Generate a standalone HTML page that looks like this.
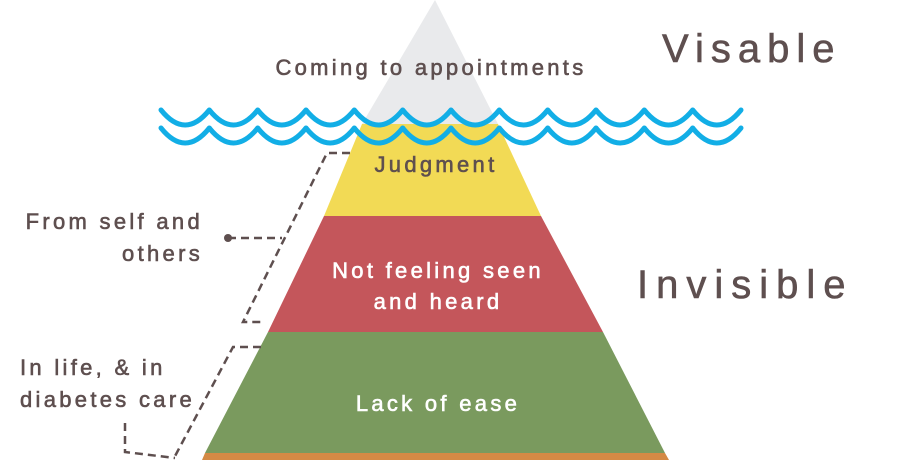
<!DOCTYPE html>
<html><head><meta charset="utf-8"><style>
html,body{margin:0;padding:0;background:#fff;width:903px;height:460px;overflow:hidden}
svg{display:block}
text{font-family:"Liberation Sans",sans-serif;}
</style></head><body>
<svg width="903" height="460" viewBox="0 0 903 460">
<polygon points="435,0 498,124 362,124" fill="#e9eaec"/>
<polygon points="362,124 498,124 541,216 324,216" fill="#f2da55"/>
<polygon points="324,216 541,216 603,332 268,332" fill="#c4565b"/>
<polygon points="268,332 603,332 665,453 205,453" fill="#7a9a5e"/>
<polygon points="205,453 665,453 669,460 202,460" fill="#d48a45"/>
<g fill="none" stroke="#12aee6" stroke-width="5" stroke-linecap="round" stroke-linejoin="round">
<path id="w1" d="M161 110 Q185.2 140 209.3 110 Q233.5 140 257.7 110 Q281.8 140 306 110 Q330.2 140 354.3 110 Q378.5 140 402.7 110 Q426.8 140 451 110 Q475.2 140 499.3 110 Q523.5 140 547.7 110 Q571.8 140 596 110 Q620.2 140 644.3 110 Q668.5 140 692.7 110 Q716.8 140 741 110"/>
<use href="#w1" y="18"/>
</g>
<g fill="#5e4f4f" stroke="#5e4f4f" stroke-width="0.6" font-size="22" letter-spacing="3.3">
<text x="431" y="75" text-anchor="middle">Coming to appointments</text>
<text x="436" y="172" text-anchor="middle">Judgment</text>
<text x="203" y="229" text-anchor="end">From self and</text>
<text x="203" y="261" text-anchor="end">others</text>
<text x="20" y="375">In life, &amp; in</text>
<text x="20" y="407">diabetes care</text>
<text x="662" y="62" font-size="40" letter-spacing="7">Visable</text>
<text x="637" y="298" font-size="40" letter-spacing="8">Invisible</text>
</g>
<g fill="#ffffff" stroke="#ffffff" stroke-width="0.6" font-size="22" letter-spacing="3.3" text-anchor="middle">
<text x="438" y="278">Not feeling seen</text>
<text x="438" y="309">and heard</text>
<text x="438" y="411">Lack of ease</text>
</g>
<g fill="none" stroke="#5e4f4f" stroke-width="2.5" stroke-dasharray="8,5">
<polyline points="350,153 327,153 243,322 262,322"/>
<line x1="228" y1="238" x2="282" y2="238"/>
<polyline points="261,347 233,347 174,458"/>
<polyline points="125,423 125,452 175,458"/>
</g>
<circle cx="228" cy="238" r="4" fill="#5e4f4f"/>
</svg>
</body></html>
